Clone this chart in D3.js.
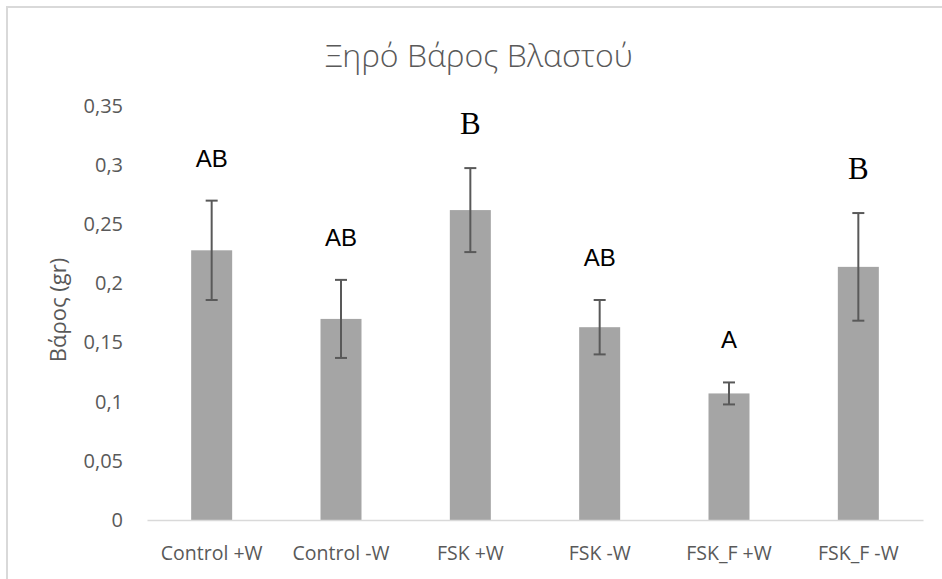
<!DOCTYPE html>
<html>
<head>
<meta charset="utf-8">
<script src="https://cdn.jsdelivr.net/npm/d3@7"></script>
<style>
    body { margin: 0; background: #fff; }
    svg { display: block; font-family: "Open Sans", sans-serif; }
</style>
</head>
<body>
<script>
    // data
    var categories = ["Control +W", "Control -W", "FSK +W", "FSK -W", "FSK_F +W", "FSK_F -W"];
    var means = [0.228, 0.170, 0.262, 0.163, 0.107, 0.214];
    var errors = [0.042, 0.033, 0.0355, 0.023, 0.0093, 0.0455];
    var letters = ["AB", "AB", "B", "AB", "A", "B"];
    var serifLetter = [false, false, true, false, false, true];
    var yTicks = [0, 0.05, 0.1, 0.15, 0.2, 0.25, 0.3, 0.35];

    var width = 942,
        height = 579;

    var svg = d3.select("body")
        .append("svg")
        .attr("width", width)
        .attr("height", height);

    // chart frame (right and bottom edges fall outside the picture)
    svg.append("rect")
        .attr("x", 7)
        .attr("y", 7)
        .attr("width", 960)
        .attr("height", 600)
        .attr("fill", "#fff")
        .attr("stroke", "#d9d9d9")
        .attr("stroke-width", 2);

    var x = d3.scaleBand()
        .domain(categories)
        .range([147, 923])
        .paddingInner(0.683)
        .paddingOuter(0.3415);

    var y = d3.scaleLinear()
        .domain([0, 0.35])
        .range([520, 106]);

    var greek = d3.formatLocale({decimal: ",", thousands: ".", grouping: [3], currency: ["", "€"]});
    var fmt = greek.format(".2~f");

    // title
    svg.append("text")
        .attr("x", 479)
        .attr("y", 67)
        .attr("text-anchor", "middle")
        .attr("fill", "#595959")
        .style("font-size", "32px")
        .style("font-weight", 300)
        .text("Ξηρό Βάρος Βλαστού");

    // y axis (labels only)
    var yAxis = svg.append("g")
        .attr("transform", "translate(147,0)")
        .call(d3.axisLeft(y).tickValues(yTicks).tickFormat(fmt).tickSize(0).tickPadding(24));
    yAxis.select(".domain").remove();
    yAxis.selectAll("text")
        .attr("fill", "#595959")
        .style("font-size", "20px")
        .style("font-family", "'Open Sans', sans-serif");

    svg.append("text")
        .attr("transform", "translate(66,310) rotate(-90)")
        .attr("text-anchor", "middle")
        .attr("fill", "#595959")
        .style("font-size", "22px")
        .text("Βάρος (gr)");

    // bars
    svg.selectAll(".bar")
        .data(categories)
        .enter()
        .append("rect")
        .attr("class", "bar")
        .attr("x", function(d){ return x(d); })
        .attr("width", x.bandwidth())
        .attr("y", function(d, i){ return y(means[i]); })
        .attr("height", function(d, i){ return y(0) - y(means[i]); })
        .attr("fill", "#a5a5a5");

    // x axis
    var xAxis = svg.append("g")
        .attr("transform", "translate(0,520)")
        .call(d3.axisBottom(x).tickSize(0).tickPadding(26));
    xAxis.select(".domain")
        .attr("stroke", "#d9d9d9")
        .attr("stroke-width", 1.5);
    xAxis.selectAll("text")
        .attr("fill", "#595959")
        .style("font-size", "19.5px")
        .style("font-family", "'Open Sans', sans-serif");

    // error bars
    var errG = svg.append("g")
        .attr("stroke", "#595959")
        .attr("stroke-width", 2);

    categories.forEach(function(c, i){
        var cx = x(c) + x.bandwidth() / 2,
            top = y(means[i] + errors[i]),
            bot = y(means[i] - errors[i]);
        errG.append("line")
            .attr("x1", cx).attr("x2", cx)
            .attr("y1", top).attr("y2", bot);
        errG.append("line")
            .attr("x1", cx - 6).attr("x2", cx + 6)
            .attr("y1", top).attr("y2", top);
        errG.append("line")
            .attr("x1", cx - 6).attr("x2", cx + 6)
            .attr("y1", bot).attr("y2", bot);
    });

    // significance letters
    svg.selectAll(".letter")
        .data(categories)
        .enter()
        .append("text")
        .attr("class", "letter")
        .attr("x", function(d){ return x(d) + x.bandwidth() / 2; })
        .attr("y", function(d, i){ return y(means[i] + errors[i]) - 34; })
        .attr("text-anchor", "middle")
        .attr("fill", "#000")
        .style("font-family", function(d, i){
            return serifLetter[i] ? "'Liberation Serif', serif" : "'Liberation Sans', sans-serif";
        })
        .style("font-size", function(d, i){ return serifLetter[i] ? "31px" : "24px"; })
        .text(function(d, i){ return letters[i]; });
</script>
</body>
</html>
